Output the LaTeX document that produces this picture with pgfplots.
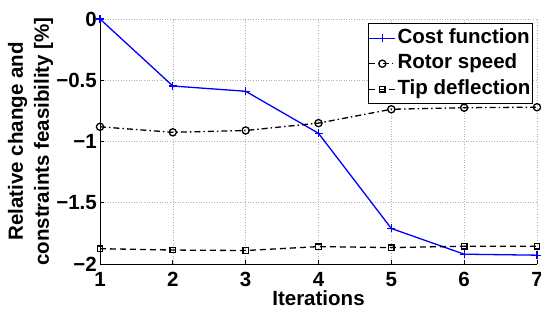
\documentclass[border=0pt]{standalone}
\usepackage{fontspec}
\setmainfont{Liberation Sans}
\usepackage{pgfplots}
\pgfplotsset{compat=1.18}
\newcommand{\chartfont}{\bfseries\fontsize{20.6}{26}\selectfont}
\begin{document}
\begin{tikzpicture}[font=\chartfont]
\begin{axis}[
  at={(0,0)}, anchor=south west,
  scale only axis, width=437bp, height=245bp,
  xmin=1, xmax=7, ymin=-2, ymax=0,
  xtick={1,2,3,4,5,6,7},
  xticklabels={1,2,3,4,5,6,7},
  ytick={-2,-1.5,-1,-0.5,0},
  yticklabels={−2,−1.5,−1,−0.5,0},
  /pgf/number format/assume math mode=true,
  axis x line*=bottom, axis y line*=left,
  axis line style={line width=0.9bp, black},
  tick align=inside, major tick length=4bp,
  tick style={line width=0.7bp, black},
  grid=major,
  major grid style={line width=0.6bp, gray!60, dotted},
  tick label style={font=\chartfont},
  label style={font=\chartfont},
  xticklabel style={anchor=base, yshift=-22bp},
  yticklabel style={anchor=east, inner sep=0pt, xshift=-3bp},
  xlabel={Iterations},
  xlabel style={at={(axis description cs:0.5,-0.1714)}, anchor=base},
  ylabel={Relative change and\\constraints feasibility [\%]},
  ylabel style={at={(axis description cs:-0.159,0.5)}, anchor=center, align=center},
  legend style={at={(axis description cs:0.9908,0.9837)}, anchor=north east,
    draw=black, line width=0.9bp, fill=white, inner xsep=0.5bp, inner ysep=2bp,
    row sep=0pt, font=\chartfont,
    nodes={text height=16.5bp, text depth=6bp, inner ysep=1.5bp, inner xsep=1.5bp}},
  legend cell align=left,
  legend image code/.code={\draw[mark repeat=2,mark phase=2,#1] plot coordinates {(0bp,0bp)(13bp,0bp)(26bp,0bp)};},
]
\addplot[blue, line width=1.3bp, mark=+, mark size=4bp, mark options={solid, line width=1.3bp}]
  coordinates {(1,0) (2,-0.547) (3,-0.59) (4,-0.933) (5,-1.71) (6,-1.92) (7,-1.928)};
\addlegendentry{Cost function}
\addplot[black, line width=1.3bp, dash pattern=on 6bp off 3bp on 1.5bp off 3bp, mark=o, mark size=3.6bp, mark options={solid, line width=1.3bp, fill=none}]
  coordinates {(1,-0.88) (2,-0.925) (3,-0.91) (4,-0.85) (5,-0.737) (6,-0.724) (7,-0.72)};
\addlegendentry{Rotor speed}
\addplot[black, line width=1.3bp, dash pattern=on 6bp off 4bp, mark=square, mark size=2.7bp, mark options={solid, line width=1.3bp}]
  coordinates {(1,-1.875) (2,-1.886) (3,-1.89) (4,-1.858) (5,-1.866) (6,-1.855) (7,-1.855)};
\addlegendentry{Tip deflection}
\end{axis}
\pgfresetboundingbox
\path[use as bounding box] (-100bp,-45bp) rectangle (441bp,264bp);
\end{tikzpicture}
\end{document}
